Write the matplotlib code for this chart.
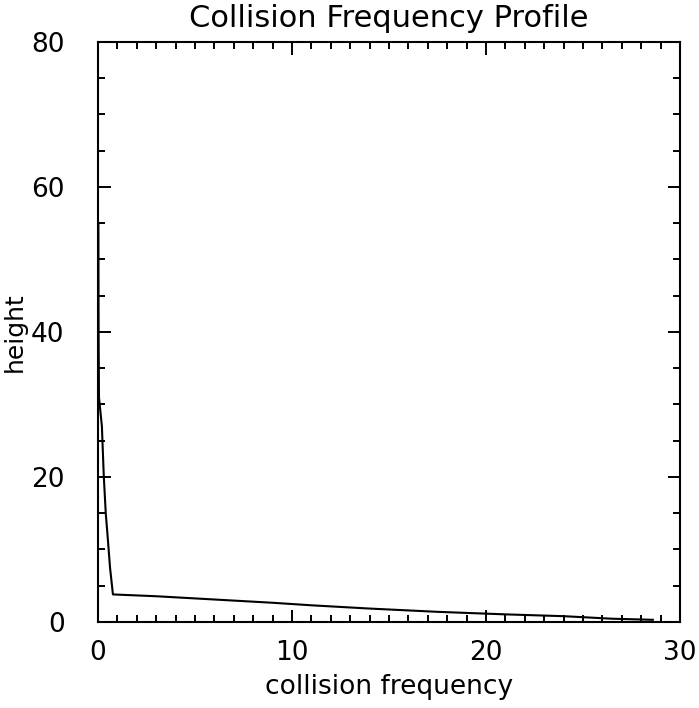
import numpy as np
import matplotlib.pyplot as plt
from matplotlib.ticker import MultipleLocator

# collision frequency vs height profile
freq = [0.02, 0.03, 0.05, 0.2, 0.3, 0.4, 0.52, 0.62, 0.77,
        3.0, 5.0, 7.0, 9.0, 11.0, 14.0, 17.5, 21.0, 24.0, 26.5, 28.6]
height = [55.0, 40.0, 31.0, 27.0, 20.0, 15.0, 11.0, 7.5, 3.8,
          3.55, 3.25, 2.95, 2.65, 2.3, 1.85, 1.4, 1.05, 0.8, 0.45, 0.3]

fig = plt.figure(figsize=(6.99, 7.08), dpi=100)
ax = fig.add_axes([0.1402, 0.1215, 0.8326, 0.8192])

ax.plot(freq, height, color='black', linewidth=1.5)

ax.set_xlim(0, 30)
ax.set_ylim(0, 80)
ax.xaxis.set_major_locator(MultipleLocator(10))
ax.xaxis.set_minor_locator(MultipleLocator(1))
ax.yaxis.set_major_locator(MultipleLocator(20))
ax.yaxis.set_minor_locator(MultipleLocator(5))

ax.tick_params(which='both', direction='in', top=True, right=True,
               width=1.4, colors='black')
ax.tick_params(which='major', length=9)
ax.tick_params(which='minor', length=5)
ax.tick_params(axis='x', which='major', labelsize=19, pad=13)
ax.tick_params(axis='y', which='major', labelsize=19, pad=24)

for side in ax.spines.values():
    side.set_linewidth(1.5)

ax.set_title('Collision Frequency Profile', fontsize=22, pad=11)
ax.set_xlabel('collision frequency', fontsize=19, labelpad=6)
ax.set_ylabel('height', fontsize=18, labelpad=3)

fig.savefig('out.png', dpi=100)
